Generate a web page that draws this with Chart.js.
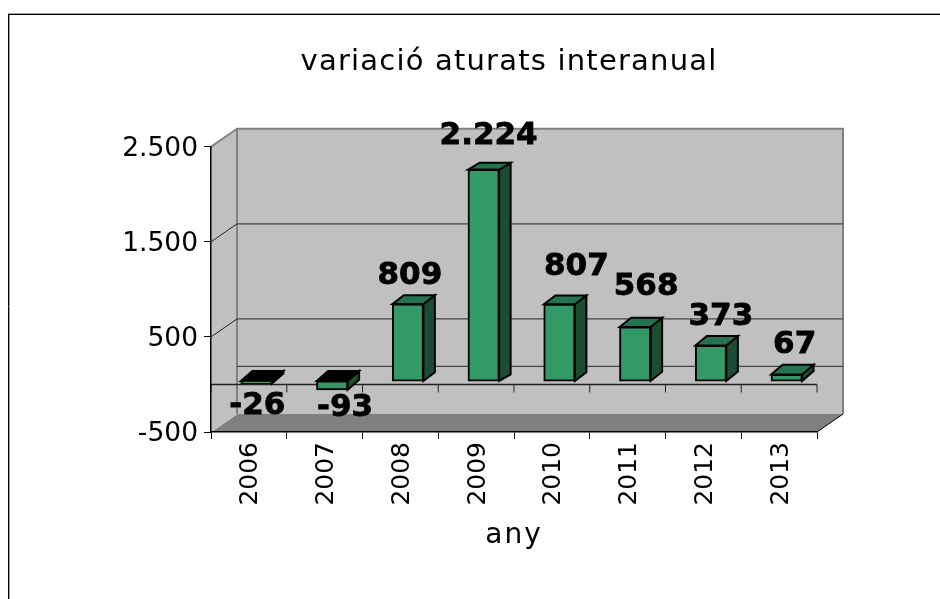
<!DOCTYPE html>
<html>
<head>
<meta charset="utf-8">
<style>html,body{margin:0;padding:0;background:#fff}#w{position:relative;width:940px;height:599px}</style>
<script src="https://cdn.jsdelivr.net/npm/chart.js@4"></script>
</head>
<body>
<div id="w"><canvas id="c" width="940" height="599"></canvas></div>
<script>
const categories = ['2006','2007','2008','2009','2010','2011','2012','2013'];
const seriesValues = [-26,-93,809,2224,807,568,373,67];
const tickValues = [-500,500,1500,2500];
const seriesName = 'variació aturats interanual';
const axisTitle = 'any';

const FONT = '"DejaVu Sans", Verdana, sans-serif';
const WALL = {dx:26, dy:-18};
const BAR = {dx:7.5, dy:-3.5};
const LABEL_SHIFT = [[1,3],[13,5],[2,0],[5,-5],[17,-9],[11,-12],[10,0],[8,-1]];
const fmt = v => String(v).replace(/\B(?=(\d{3})+$)/g,'.');

function poly(ctx, pts, fill, stroke, lw){
  ctx.beginPath();
  pts.forEach((p,i)=> i?ctx.lineTo(p[0],p[1]):ctx.moveTo(p[0],p[1]));
  ctx.closePath();
  if(fill){ctx.fillStyle=fill;ctx.fill();}
  if(stroke){ctx.strokeStyle=stroke;ctx.lineWidth=lw;ctx.lineJoin='miter';ctx.stroke();}
}
function line(ctx,x1,y1,x2,y2,color,lw){
  ctx.beginPath();ctx.moveTo(x1,y1);ctx.lineTo(x2,y2);ctx.strokeStyle=color;ctx.lineWidth=lw;ctx.stroke();
}
function shiftLabels(s,dx,dy){
  if(s._shifted) return;
  s._shifted=true;
  const f=s._computeLabelItems.bind(s);
  s._computeLabelItems=ca=>{
    const items=f(ca);
    items.forEach(it=>{it.options.translation[0]+=dx;it.options.translation[1]+=dy;});
    return items;
  };
}

const scene = {
  id:'scene',
  afterLayout(chart){
    const ctx=chart.ctx, t = chart.titleBlock;
    t.left = 100; t.right = 918;
    if(!t._spaced){
      t._spaced=true;
      const d=t.draw.bind(t);
      t.draw=function(){ctx.save();ctx.letterSpacing='1.2px';d();ctx.restore();};
      const xs=chart.scales.x, dt=xs.drawTitle.bind(xs);
      xs.drawTitle=function(){ctx.save();ctx.letterSpacing='2px';dt();ctx.restore();};
    }
    shiftLabels(chart.scales.y,0,2.5);
    shiftLabels(chart.scales.x,2,0);
  },
  beforeDraw(chart){
    const ctx = chart.ctx, a = chart.chartArea;
    const y = chart.scales.y;
    const L=a.left,R=a.right,T=a.top,B=a.bottom,dx=WALL.dx,dy=WALL.dy;
    ctx.save();
    // chart frame
    line(ctx,8,13.5,940,13.5,'#a0a0a0',1);
    line(ctx,9.5,14,9.5,599,'#a0a0a0',1);
    line(ctx,8,14.5,940,14.5,'#000',1);
    line(ctx,8.5,14,8.5,599,'#000',1);
    // walls and floor
    poly(ctx,[[L,T],[L+dx,T+dy],[L+dx,B+dy],[L,B]],'#c0c0c0');
    poly(ctx,[[L+dx,T+dy],[R+dx,T+dy],[R+dx,B+dy],[L+dx,B+dy]],'#c0c0c0');
    poly(ctx,[[L,B],[L+dx,B+dy],[R+dx,B+dy],[R,B]],'#808080');
    line(ctx,L,T,L+dx,T+dy,'#808080',2);
    line(ctx,L+dx-1,T+dy,R+dx+1,T+dy,'#808080',2);
    line(ctx,L+dx,T+dy,L+dx,B+dy,'#808080',2);
    line(ctx,R+dx,T+dy,R+dx,B+dy,'#808080',2);
    line(ctx,L,B,L+dx,B+dy,'#c8c8c8',1);
    line(ctx,R,B,R+dx,B+dy,'#000',1);
    // gridlines on wall
    tickValues.slice(1,-1).forEach(v=>{
      const p=y.getPixelForValue(v);
      line(ctx,L,p,L+dx,p+dy,'#222',1);
      line(ctx,L+dx,p+dy,R+dx,p+dy,'#444',1.3);
    });
    const z=y.getPixelForValue(0);
    line(ctx,L+dx,z+dy,R+dx,z+dy,'#444',1.3);
    // zero axis with its ticks
    line(ctx,L,z,R,z,'#222',1.5);
    for(let i=0;i<=categories.length;i++){
      const px=L+(R-L)*i/categories.length;
      line(ctx,px,z,px,z+8,'#222',1);
    }
    ctx.restore();
  },
  beforeDatasetDraw(chart,args){
    const ctx=chart.ctx;
    ctx.save();
    ctx.translate(BAR.dx,BAR.dy);
    args.meta.data.forEach((el,i)=>{
      const v=seriesValues[i];
      const w=el.width/2, t=Math.min(el.y,el.base), b=Math.max(el.y,el.base);
      const l=el.x-w, r=el.x+w;
      const ddx=11.5, ddy=-10+0.0015*Math.max(v,0);
      poly(ctx,[[r,t],[r+ddx,t+ddy],[r+ddx,b+ddy],[r,b]],'#1a4d33','#000',2);
      poly(ctx,[[l,t],[l+ddx,t+ddy],[r+ddx,t+ddy],[r,t]],v<0?'#000':'#267350','#000',2);
    });
  },
  afterDatasetDraw(chart){
    chart.ctx.restore();
  },
  afterDatasetsDraw(chart){
    const ctx=chart.ctx;
    const meta=chart.getDatasetMeta(0);
    ctx.save();
    ctx.font='bold 31px '+FONT;
    ctx.fillStyle='#000';
    ctx.strokeStyle='#000';
    ctx.lineWidth=0.8;
    ctx.textAlign='center';
    ctx.textBaseline='middle';
    meta.data.forEach((el,i)=>{
      const v=seriesValues[i];
      const yy=v<0? el.base+18 : el.y-32;
      const s=LABEL_SHIFT[i];
      ctx.fillText(fmt(v),el.x+BAR.dx+s[0],yy+s[1]);
      ctx.strokeText(fmt(v),el.x+BAR.dx+s[0],yy+s[1]);
    });
    ctx.restore();
  }
};

new Chart(document.getElementById('c'),{
  type:'bar',
  data:{labels:categories,datasets:[{
    label:seriesName,data:seriesValues,backgroundColor:'#339966',borderColor:'#000',borderWidth:2,
    barThickness:31,clip:false,borderSkipped:false,inflateAmount:0.5
  }]},
  plugins:[scene],
  options:{
    responsive:false,animation:false,
    layout:{padding:{left:0,right:123,top:0,bottom:46}},
    plugins:{
      legend:{display:false},tooltip:{enabled:false},
      title:{display:true,text:seriesName,color:'#000',font:{family:FONT,size:29,weight:'normal'},padding:{top:45,bottom:67}}
    },
    scales:{
      x:{
        grid:{drawOnChartArea:false,tickLength:7,color:'#000',lineWidth:1},
        border:{color:'#000',width:1.5},
        ticks:{color:'#000',font:{family:FONT,size:25},minRotation:90,maxRotation:90,padding:3,autoSkip:false},
        title:{display:true,text:axisTitle,color:'#000',font:{family:FONT,size:28},padding:{top:0,bottom:0}},
        afterFit(s){s.height=121;}
      },
      y:{
        min:-500,max:2500,
        grid:{drawOnChartArea:false,tickLength:7,color:'#000',lineWidth:1},
        border:{color:'#000',width:1.5},
        ticks:{color:'#000',font:{family:FONT,size:26.5},padding:6,callback:v=>fmt(v)},
        afterBuildTicks(s){s.ticks=tickValues.map(v=>({value:v}));},
        afterFit(s){s.width=211;}
      }
    }
  }
});
</script>
</body>
</html>
